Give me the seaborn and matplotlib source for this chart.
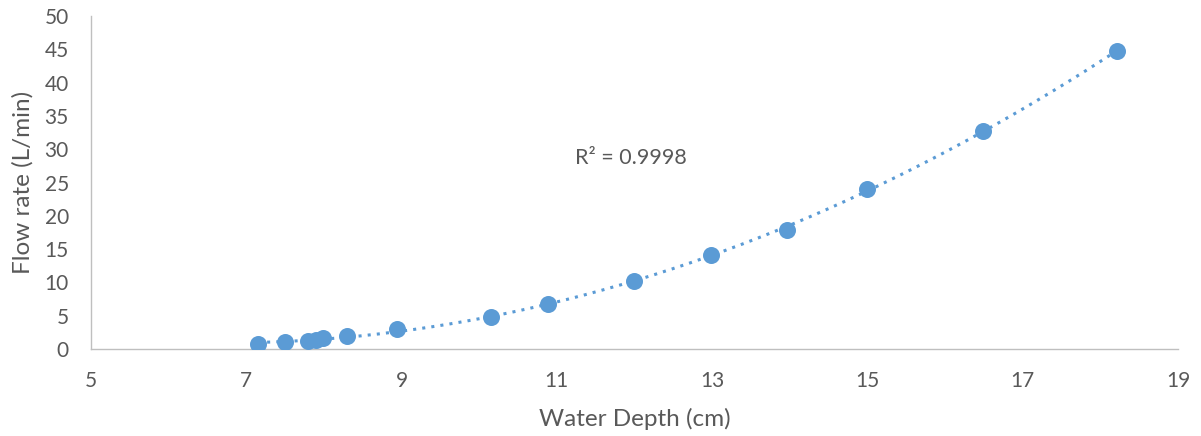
import numpy as np
import pandas as pd
import seaborn as sns
import matplotlib
matplotlib.use("Agg")
import matplotlib.pyplot as plt

depth = [7.15, 7.50, 7.80, 7.90, 7.99, 8.30, 8.94, 10.15, 10.89, 12.0, 12.99, 13.96, 15.0, 16.49, 18.21]
flow = [0.75, 1.0, 1.2, 1.4, 1.6, 2.0, 3.0, 4.8, 6.8, 10.2, 14.1, 17.9, 24.0, 32.7, 44.8]
x_ticks = [5, 7, 9, 11, 13, 15, 17, 19]
y_ticks = [0, 5, 10, 15, 20, 25, 30, 35, 40, 45, 50]
r2_label = "R² = 0.9998"

sns.set_theme(style="white")
plt.rcParams['font.family'] = ['Lato', 'DejaVu Sans']

df = pd.DataFrame({"depth": depth, "flow": flow})
color = "#5B9BD5"
gray = "#595959"

fig = plt.figure(figsize=(12.01, 4.36), dpi=100)
ax = fig.add_axes([0.0758, 0.1995, 0.905, 0.7635])

# polynomial (order 2) trendline from data
coef = np.polyfit(df.depth, df.flow, 2)
xs = np.linspace(min(depth), max(depth), 200)
trend = pd.DataFrame({"x": xs, "y": np.polyval(coef, xs)})
sns.lineplot(data=trend, x="x", y="y", ax=ax, color=color, linestyle=(0, (1, 2)), linewidth=2.2)
sns.scatterplot(data=df, x="depth", y="flow", ax=ax, color=color, s=150, edgecolor=color, linewidth=0, zorder=3)

ax.set_xlim(5, 19)
ax.set_ylim(0, 50)
ax.set_xticks(x_ticks)
ax.set_yticks(y_ticks)
ax.tick_params(axis="x", length=0, labelsize=15, labelcolor=gray, pad=16)
ax.tick_params(axis="y", length=0, labelsize=15, labelcolor=gray, pad=16)
ax.set_xlabel("Water Depth (cm)", fontsize=17.5, color=gray, labelpad=12)
ax.set_ylabel("Flow rate (L/min)", fontsize=17.5, color=gray, labelpad=8)
for s in ["top", "right"]:
    ax.spines[s].set_visible(False)
for s in ["left", "bottom"]:
    ax.spines[s].set_color("#BFBFBF")
    ax.spines[s].set_linewidth(1.0)

ax.text(11.24, 28.7, r2_label, fontsize=15.5, color=gray, va="center", ha="left")

fig.savefig("out.png", dpi=100)
